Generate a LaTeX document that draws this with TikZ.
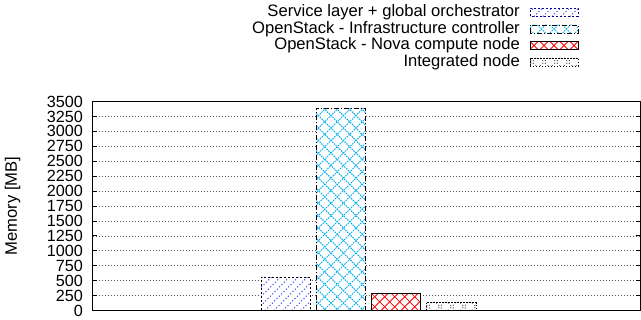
\documentclass[tikz,border=0pt]{standalone}
\usepackage{fontspec}
\setmainfont{Liberation Sans}
% hatch lines in one direction, clipped to a box
\newcommand{\hatchlines}[6]{%
  \begin{scope}
    \clip (#1,#2) rectangle (#3,#4);
    \foreach \k in {0,...,40}
      \draw[#5] ({#1-230+\k*#6},#2) -- ++(300,300);
  \end{scope}}
% hatch lines in both directions, clipped to a box
\newcommand{\crosslines}[6]{%
  \begin{scope}
    \clip (#1,#2) rectangle (#3,#4);
    \foreach \k in {0,...,40} {
      \draw[#5] ({#1-230+\k*#6},#2) -- ++(300,300);
      \draw[#5] ({#1-230+\k*#6},#4) -- ++(300,-300);}
  \end{scope}}
\begin{document}
\begin{tikzpicture}[x=1pt,y=1pt,
    every node/.style={font=\fontsize{16.6}{18}\selectfont, inner sep=0pt},
    ticklabel/.style={font=\fontsize{16.2}{16}\selectfont, anchor=east},
    gridline/.style={line width=0.6pt, black!65, dash pattern=on 1pt off 2pt},
    bluehatch/.style={blue, line width=0.9pt, dash pattern=on 0.9pt off 2.4pt},
    cyanhatch/.style={cyan, line width=1pt, dash pattern=on 1.5pt off 1pt},
    redhatch/.style={red, line width=0.8pt},
    blackhatch/.style={black!70, line width=0.8pt, dash pattern=on 1pt off 2.5pt},
    border1/.style={black, line width=0.8pt, dash pattern=on 2pt off 2pt},
    border2/.style={black, line width=0.8pt, dash pattern=on 5pt off 2pt on 1pt off 2pt},
    border3/.style={black, line width=0.8pt},
    border4/.style={black, line width=0.8pt, dash pattern=on 1.5pt off 1.5pt}]
  \useasboundingbox (0,0) rectangle (641,320);
  \def \xl{92.5}
  \def \xr{640}
  \def \yb{9.5}
  \def \yt{218.5}
  \def \ymb{0.0597143}
  % grid, ticks and tick labels
  \foreach \v in {250,500,...,3250} {
    \draw[gridline] (\xl,{\yb+\v*\ymb}) -- (\xr,{\yb+\v*\ymb});
    \draw[line width=0.8pt] (\xl,{\yb+\v*\ymb}) -- ++(4,0);
    \draw[line width=0.8pt] (\xr,{\yb+\v*\ymb}) -- ++(-4,0);
  }
  \foreach \v in {0,250,...,3500}
    \node[ticklabel] (tick\v) at (83,{\yb+\v*\ymb}) {\v};
  \node[rotate=90] (ylabel) at (12.5,{(\yb+\yt)/2}) {Memory [MB]};
  % bars
  \def \ha{{\yb+555*\ymb}}
  \def \hb{{\yb+3390*\ymb}}
  \def \hc{{\yb+290*\ymb}}
  \def \hd{{\yb+130*\ymb}}
  \fill[white] (261,\yb) rectangle (310.5,\ha);
  \hatchlines{261}{\yb}{310.5}{\ha}{bluehatch}{9}
  \draw[border1] (261,\yb) rectangle (310.5,\ha);
  \fill[white] (316,\yb) rectangle (365.5,\hb);
  \crosslines{316}{\yb}{365.5}{\hb}{cyanhatch}{12.5}
  \draw[border2] (316,\yb) rectangle (365.5,\hb);
  \fill[white] (371,\yb) rectangle (420.5,\hc);
  \crosslines{371}{\yb}{420.5}{\hc}{redhatch}{10}
  \draw[border3] (371,\yb) rectangle (420.5,\hc);
  \fill[white] (426,\yb) rectangle (476,\hd);
  \crosslines{426}{\yb}{476}{\hd}{blackhatch}{12}
  \draw[border4] (426,\yb) rectangle (476,\hd);
  % frame
  \draw[line width=0.9pt] (\xl,\yb) rectangle (\xr,\yt);
  % legend
  \node[anchor=east] (keySL) at (520,307.5) {Service layer + global orchestrator};
  \hatchlines{530}{303.5}{578}{311.5}{bluehatch}{9}
  \draw[border1, blue!60!black] (530,303.5) rectangle (578,311.5);
  \node[anchor=east] (keyIC) at (520,291) {OpenStack - Infrastructure controller};
  \crosslines{530}{287}{578}{295}{cyanhatch}{12.5}
  \draw[border2] (530,287) rectangle (578,295);
  \node[anchor=east] (keyNC) at (520,274.5) {OpenStack - Nova compute node};
  \crosslines{530}{270.5}{578}{278.5}{redhatch}{10}
  \draw[border3] (530,270.5) rectangle (578,278.5);
  \node[anchor=east] (keyIN) at (520,258) {Integrated node};
  \crosslines{530}{254}{578}{262}{blackhatch}{12}
  \draw[border4] (530,254) rectangle (578,262);
\end{tikzpicture}
\end{document}
